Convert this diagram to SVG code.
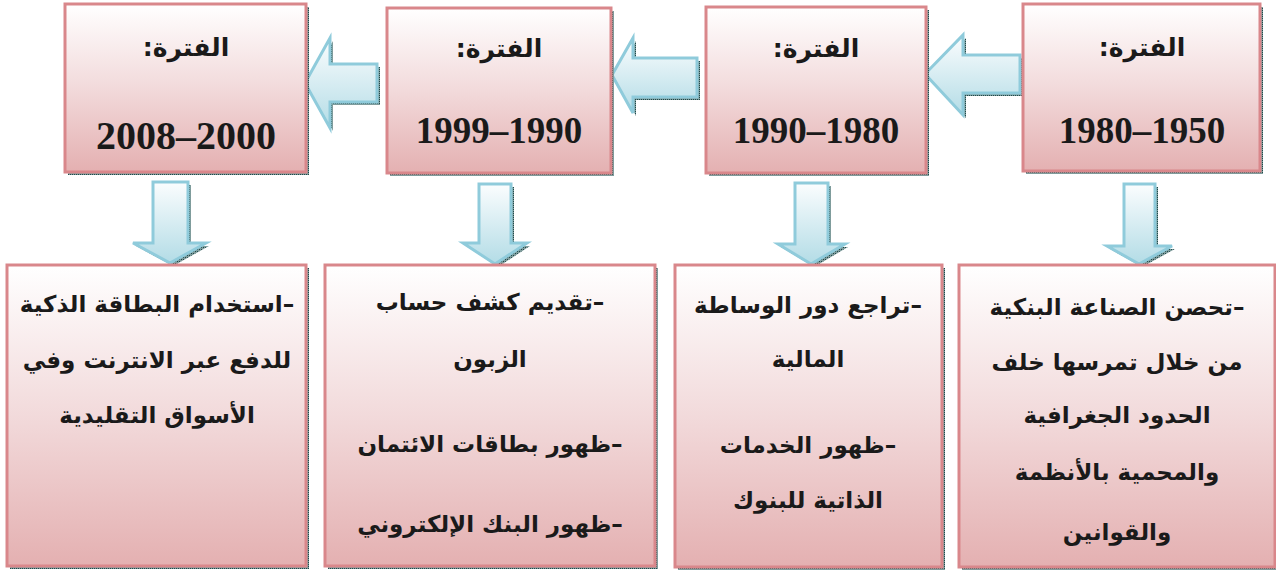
<svg xmlns="http://www.w3.org/2000/svg" width="1276" height="575" viewBox="0 0 1276 575">
<style>
.box{stroke:#d9878b;stroke-width:3;fill:url(#pink)}
.shadow{fill:url(#dots)}
.arrow{stroke:#8fcbdb;stroke-width:3;fill:url(#blue);stroke-linejoin:miter}
.t{font-family:"Liberation Serif","DejaVu Sans",serif;font-weight:bold;fill:#1a1a1a;text-anchor:middle}
.ar{direction:rtl;font-size:23px;font-family:"DejaVu Sans",sans-serif}
.hd{direction:rtl;font-size:25px;font-family:"DejaVu Sans",sans-serif}
.num{font-size:37px}
</style>
<defs>
<linearGradient id="pink" x1="0" y1="0" x2="0" y2="1">
<stop offset="0" stop-color="#ffffff"/>
<stop offset="0.5" stop-color="#f2dadb"/>
<stop offset="1" stop-color="#e4b0b1"/>
</linearGradient>
<linearGradient id="blue" x1="0" y1="0" x2="0" y2="1">
<stop offset="0" stop-color="#fbfdfe"/>
<stop offset="1" stop-color="#b3dce6"/>
</linearGradient>
<pattern id="dots" width="2" height="2" patternUnits="userSpaceOnUse">
<rect width="2" height="2" fill="#7f9c9c"/>
<rect width="1" height="1" fill="#1f4a4b"/>
</pattern>
</defs>
<rect width="1276" height="575" fill="#ffffff"/>

<g id="connectors">
<path class="shadow" transform="translate(3,3)" d="M305,83 L330,38 L330,64 L377,64 L377,102 L330,102 L330,128 Z"/>
<path class="arrow" d="M305,83 L330,38 L330,64 L377,64 L377,102 L330,102 L330,128 Z"/>
<path class="shadow" transform="translate(3,3)" d="M612,75 L633,38 L633,58 L697,58 L697,97 L633,97 L633,113 Z"/>
<path class="arrow" d="M612,75 L633,38 L633,58 L697,58 L697,97 L633,97 L633,113 Z"/>
<path class="shadow" transform="translate(3,3)" d="M925,74 L963,35 L963,55 L1020,55 L1020,93 L963,93 L963,115 Z"/>
<path class="arrow" d="M925,74 L963,35 L963,55 L1020,55 L1020,93 L963,93 L963,115 Z"/>
<path class="shadow" transform="translate(3,3)" d="M153,182 L188,182 L188,243 L206,243 L170,263 L133,243 L153,243 Z"/>
<path class="arrow" d="M153,182 L188,182 L188,243 L206,243 L170,263 L133,243 L153,243 Z"/>
<path class="shadow" transform="translate(3,3)" d="M479,184 L511,184 L511,243 L527,243 L495,264 L463,243 L479,243 Z"/>
<path class="arrow" d="M479,184 L511,184 L511,243 L527,243 L495,264 L463,243 L479,243 Z"/>
<path class="shadow" transform="translate(3,3)" d="M795,183 L828,183 L828,244 L845,244 L811,264 L778,244 L795,244 Z"/>
<path class="arrow" d="M795,183 L828,183 L828,244 L845,244 L811,264 L778,244 L795,244 Z"/>
<path class="shadow" transform="translate(3,3)" d="M1124,184 L1155,184 L1155,246 L1172,246 L1139,264 L1107,246 L1124,246 Z"/>
<path class="arrow" d="M1124,184 L1155,184 L1155,246 L1172,246 L1139,264 L1107,246 L1124,246 Z"/>
</g>

<g id="period-2000">
<rect class="shadow" x="68" y="7" width="241" height="168"/>
<rect class="box" x="65" y="4" width="241" height="168"/>
<text class="t hd" x="186" y="56">الفترة:</text>
<text class="t num" x="186" y="149" style="font-size:40px">2008–2000</text>
</g>
<g id="period-1990">
<rect class="shadow" x="390" y="11" width="224" height="165"/>
<rect class="box" x="387" y="8" width="224" height="165"/>
<text class="t hd" x="499" y="57">الفترة:</text>
<text class="t num" x="499" y="143">1999–1990</text>
</g>
<g id="period-1980">
<rect class="shadow" x="709" y="10" width="220" height="166"/>
<rect class="box" x="706" y="7" width="220" height="166"/>
<text class="t hd" x="816" y="57">الفترة:</text>
<text class="t num" x="816" y="143">1990–1980</text>
</g>
<g id="period-1950">
<rect class="shadow" x="1026" y="7" width="237" height="167"/>
<rect class="box" x="1023" y="4" width="237" height="167"/>
<text class="t hd" x="1142" y="56">الفترة:</text>
<text class="t num" x="1142" y="143">1980–1950</text>
</g>

<g id="events-2000">
<rect class="shadow" x="10" y="268" width="299" height="301"/>
<rect class="box" x="7" y="265" width="299" height="301"/>
<text class="t ar" x="157" y="312">–استخدام البطاقة الذكية</text>
<text class="t ar" x="157" y="368">للدفع عبر الانترنت وفي</text>
<text class="t ar" x="157" y="423">الأسواق التقليدية</text>
</g>
<g id="events-1990">
<rect class="shadow" x="328" y="268" width="330" height="301"/>
<rect class="box" x="325" y="265" width="330" height="301"/>
<text class="t ar" x="490" y="310">–تقديم كشف حساب</text>
<text class="t ar" x="490" y="367">الزبون</text>
<text class="t ar" x="490" y="452">–ظهور بطاقات الائتمان</text>
<text class="t ar" x="490" y="532">–ظهور البنك الإلكتروني</text>
</g>
<g id="events-1980">
<rect class="shadow" x="678" y="268" width="267" height="302"/>
<rect class="box" x="675" y="265" width="267" height="302"/>
<text class="t ar" x="808" y="313">–تراجع دور الوساطة</text>
<text class="t ar" x="808" y="367">المالية</text>
<text class="t ar" x="808" y="453">–ظهور الخدمات</text>
<text class="t ar" x="808" y="508">الذاتية للبنوك</text>
</g>
<g id="events-1950">
<rect class="shadow" x="962" y="268" width="316" height="302"/>
<rect class="box" x="959" y="265" width="316" height="302"/>
<text class="t ar" x="1117" y="315">–تحصن الصناعة البنكية</text>
<text class="t ar" x="1117" y="370">من خلال تمرسها خلف</text>
<text class="t ar" x="1117" y="423">الحدود الجغرافية</text>
<text class="t ar" x="1117" y="480">والمحمية بالأنظمة</text>
<text class="t ar" x="1117" y="540">والقوانين</text>
</g>
</svg>
